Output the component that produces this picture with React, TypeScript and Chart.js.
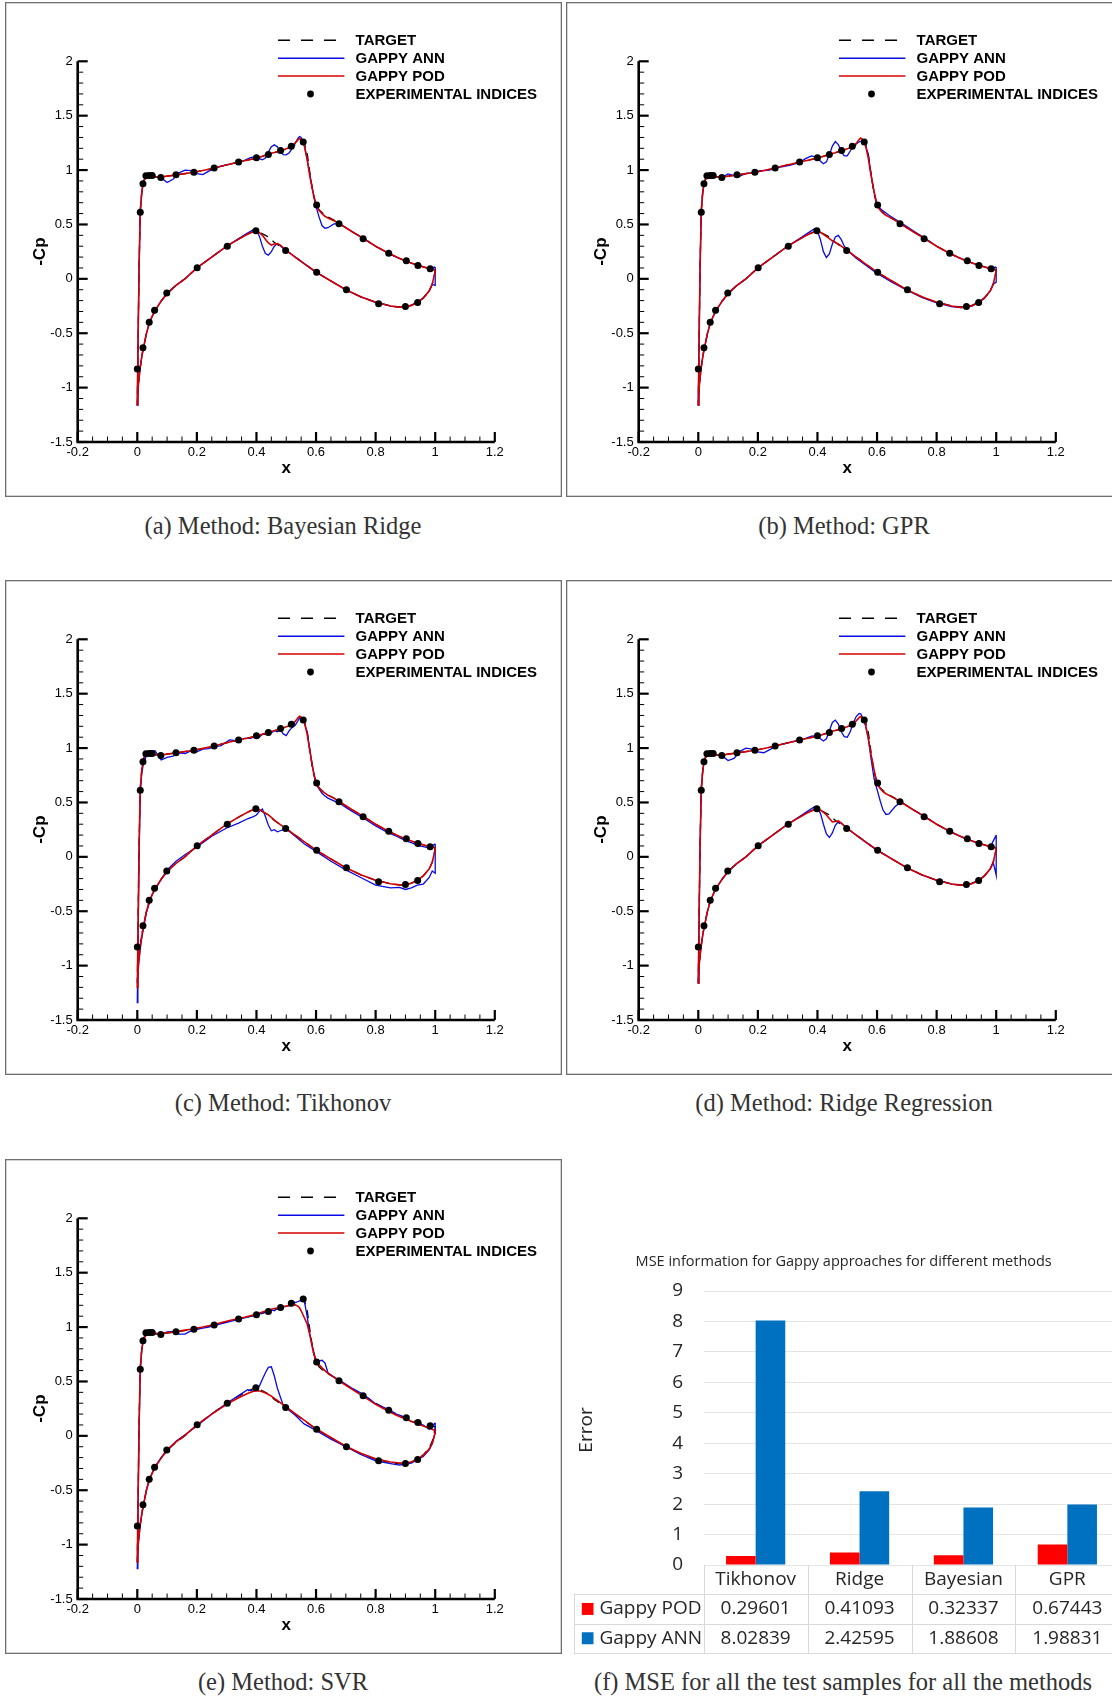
import React, { useEffect, useRef } from "react";
import { Chart, registerables } from "chart.js";
Chart.register(...registerables);

// ---------------- Cp distribution data (x/c along the airfoil loop) ----------------
// upper surface, trailing edge -> leading edge
const xUpper = [
  1.0, 0.98, 0.96, 0.94, 0.92, 0.9, 0.87, 0.84,
  0.8, 0.76, 0.72, 0.7, 0.68, 0.66, 0.64, 0.63,
  0.62, 0.61, 0.6, 0.59, 0.58, 0.57, 0.56, 0.55,
  0.545, 0.54, 0.53, 0.52, 0.51, 0.5, 0.49, 0.48,
  0.47, 0.46, 0.45, 0.44, 0.43, 0.42, 0.41, 0.4,
  0.38, 0.36, 0.34, 0.31, 0.28, 0.26, 0.24, 0.22,
  0.2, 0.18, 0.16, 0.14, 0.12, 0.1, 0.08, 0.06,
  0.04, 0.03, 0.02, 0.015, 0.01, 0.006, 0.003, 0,
];
// lower surface, leading edge -> trailing edge
const xLower = [
  0.002, 0.004, 0.008, 0.012, 0.018, 0.022, 0.03, 0.04,
  0.05, 0.06, 0.08, 0.1, 0.13, 0.16, 0.2, 0.25,
  0.3, 0.34, 0.37, 0.39, 0.4, 0.41, 0.42, 0.43,
  0.44, 0.45, 0.46, 0.47, 0.48, 0.49, 0.5, 0.53,
  0.56, 0.6, 0.65, 0.7, 0.75, 0.8, 0.85, 0.88,
  0.9, 0.92, 0.94, 0.96, 0.98, 0.99, 1.0,
];

const targetUpper = [
  0.085, 0.095, 0.11, 0.125, 0.145, 0.165, 0.2, 0.24,
  0.3, 0.37, 0.435, 0.47, 0.505, 0.54, 0.57, 0.59,
  0.61, 0.635, 0.68, 0.78, 0.96, 1.16, 1.25, 1.25,
  1.245, 1.24, 1.23, 1.215, 1.205, 1.195, 1.185, 1.178,
  1.168, 1.16, 1.152, 1.143, 1.135, 1.125, 1.118, 1.11,
  1.098, 1.086, 1.074, 1.055, 1.035, 1.018, 1.007, 0.997,
  0.985, 0.976, 0.968, 0.96, 0.952, 0.944, 0.935, 0.938,
  0.95, 0.945, 0.89, 0.8, 0.63, 0.1, -0.5, -1.16,
];
const targetLower = [
  -1.05, -0.96, -0.86, -0.77, -0.67, -0.62, -0.51, -0.41,
  -0.345, -0.29, -0.205, -0.135, -0.06, 0.0, 0.1, 0.2,
  0.3, 0.365, 0.41, 0.435, 0.443, 0.43, 0.415, 0.4,
  0.385, 0.36, 0.335, 0.315, 0.295, 0.277, 0.26, 0.2,
  0.14, 0.062, -0.02, -0.1, -0.165, -0.215, -0.248, -0.258,
  -0.256, -0.242, -0.215, -0.175, -0.11, -0.05, 0.07,
];

const expX = [
  0, 0.01, 0.019, 0.029, 0.04, 0.05, 0.079, 0.13, 0.19, 0.258, 0.34, 0.4,
  0.44, 0.481, 0.517, 0.557, 0.602, 0.677, 0.758, 0.844, 0.903, 0.942, 0.983,
  0.019, 0.04, 0.058, 0.099, 0.201, 0.302, 0.398, 0.498, 0.602, 0.702, 0.81, 0.9, 0.941,
];
const expY = [
  -0.83, 0.612, 0.875, 0.947, 0.951, 0.951, 0.932, 0.956, 0.98, 1.018, 1.074, 1.113,
  1.144, 1.181, 1.218, 1.257, 0.679, 0.507, 0.368, 0.236, 0.166, 0.123, 0.092,
  -0.634, -0.4, -0.289, -0.13, 0.103, 0.299, 0.443, 0.26, 0.061, -0.101, -0.23, -0.255, -0.218,
];

// (a) Bayesian Ridge
const podUpperBayes = [
  0.08, 0.095, 0.11, 0.125, 0.145, 0.165, 0.2, 0.24,
  0.3, 0.37, 0.435, 0.47, 0.505, 0.535, 0.56, 0.575,
  0.6, 0.63, 0.68, 0.79, 0.93, 1.1, 1.23, 1.28,
  1.29, 1.28, 1.25, 1.225, 1.21, 1.195, 1.185, 1.177,
  1.17, 1.162, 1.155, 1.147, 1.138, 1.128, 1.118, 1.11,
  1.097, 1.085, 1.073, 1.054, 1.036, 1.02, 1.008, 0.996,
  0.984, 0.975, 0.967, 0.959, 0.951, 0.944, 0.937, 0.94,
  0.95, 0.944, 0.89, 0.79, 0.62, 0.1, -0.5, -1.16,
];
const podLowerBayes = [
  -1.05, -0.96, -0.86, -0.77, -0.67, -0.62, -0.51, -0.41,
  -0.345, -0.29, -0.205, -0.135, -0.06, 0.0, 0.1, 0.2,
  0.3, 0.365, 0.41, 0.435, 0.44, 0.425, 0.4, 0.365,
  0.33, 0.31, 0.32, 0.325, 0.31, 0.285, 0.262, 0.2,
  0.14, 0.062, -0.02, -0.1, -0.165, -0.215, -0.25, -0.26,
  -0.258, -0.244, -0.217, -0.177, -0.11, -0.05, 0.07,
];
const annUpperBayes = [
  0.11, 0.092, 0.11, 0.125, 0.145, 0.165, 0.2, 0.24,
  0.3, 0.37, 0.435, 0.47, 0.505, 0.505, 0.47, 0.465,
  0.49, 0.57, 0.665, 0.8, 0.95, 1.1, 1.24, 1.3,
  1.308, 1.295, 1.245, 1.2, 1.16, 1.14, 1.142, 1.17,
  1.215, 1.232, 1.215, 1.165, 1.11, 1.094, 1.105, 1.125,
  1.115, 1.09, 1.074, 1.054, 1.034, 1.017, 0.99, 0.958,
  0.968, 0.995, 1.0, 0.975, 0.915, 0.885, 0.93, 0.94,
  0.95, 0.944, 0.89, 0.79, 0.62, 0.1, -0.5, -1.16,
];
const annLowerBayes = [
  -1.05, -0.96, -0.86, -0.77, -0.67, -0.62, -0.51, -0.41,
  -0.345, -0.29, -0.205, -0.135, -0.06, 0.0, 0.1, 0.2,
  0.3, 0.37, 0.42, 0.452, 0.448, 0.39, 0.3, 0.232,
  0.218, 0.25, 0.3, 0.325, 0.305, 0.28, 0.26, 0.2,
  0.14, 0.062, -0.02, -0.1, -0.165, -0.215, -0.25, -0.262,
  -0.26, -0.244, -0.217, -0.177, -0.11, -0.05, -0.06,
];

// (b) GPR
const podUpperGPR = [
  0.08, 0.095, 0.11, 0.125, 0.145, 0.165, 0.2, 0.24,
  0.3, 0.37, 0.435, 0.47, 0.505, 0.54, 0.57, 0.585,
  0.605, 0.635, 0.68, 0.8, 0.95, 1.12, 1.24, 1.285,
  1.294, 1.28, 1.245, 1.222, 1.208, 1.195, 1.185, 1.177,
  1.17, 1.16, 1.152, 1.144, 1.136, 1.127, 1.118, 1.11,
  1.097, 1.085, 1.073, 1.054, 1.035, 1.019, 1.007, 0.996,
  0.984, 0.975, 0.966, 0.958, 0.95, 0.943, 0.937, 0.94,
  0.95, 0.944, 0.89, 0.8, 0.62, 0.1, -0.5, -1.16,
];
const podLowerGPR = [
  -1.05, -0.96, -0.86, -0.77, -0.67, -0.62, -0.51, -0.41,
  -0.345, -0.29, -0.205, -0.135, -0.06, 0.0, 0.1, 0.2,
  0.3, 0.365, 0.41, 0.43, 0.437, 0.428, 0.41, 0.39,
  0.37, 0.35, 0.335, 0.32, 0.3, 0.28, 0.262, 0.2,
  0.14, 0.062, -0.02, -0.1, -0.165, -0.215, -0.25, -0.262,
  -0.26, -0.245, -0.218, -0.178, -0.11, -0.05, 0.07,
];
const annUpperGPR = [
  0.11, 0.095, 0.11, 0.125, 0.145, 0.165, 0.2, 0.24,
  0.3, 0.375, 0.445, 0.48, 0.515, 0.55, 0.585, 0.605,
  0.625, 0.65, 0.68, 0.8, 0.96, 1.15, 1.24, 1.27,
  1.265, 1.26, 1.24, 1.22, 1.175, 1.13, 1.13, 1.17,
  1.235, 1.262, 1.22, 1.14, 1.075, 1.058, 1.08, 1.115,
  1.13, 1.105, 1.07, 1.045, 1.03, 1.02, 1.0, 0.995,
  0.99, 0.975, 0.97, 0.945, 0.95, 0.965, 0.935, 0.94,
  0.95, 0.944, 0.89, 0.8, 0.62, 0.1, -0.5, -1.16,
];
const annLowerGPR = [
  -1.05, -0.96, -0.86, -0.77, -0.67, -0.62, -0.51, -0.41,
  -0.345, -0.29, -0.205, -0.135, -0.06, 0.0, 0.1, 0.2,
  0.3, 0.37, 0.425, 0.46, 0.44, 0.36, 0.25, 0.196,
  0.23, 0.32, 0.385, 0.4, 0.36, 0.3, 0.265, 0.19,
  0.13, 0.05, -0.03, -0.105, -0.17, -0.22, -0.255, -0.265,
  -0.262, -0.248, -0.22, -0.18, -0.11, -0.05, -0.03,
];

// (c) Tikhonov
const podUpperTikh = [
  0.085, 0.095, 0.11, 0.125, 0.145, 0.165, 0.2, 0.24,
  0.3, 0.37, 0.435, 0.47, 0.505, 0.54, 0.565, 0.585,
  0.605, 0.635, 0.68, 0.8, 0.96, 1.13, 1.245, 1.285,
  1.292, 1.28, 1.245, 1.222, 1.207, 1.195, 1.185, 1.177,
  1.168, 1.16, 1.152, 1.143, 1.135, 1.126, 1.118, 1.11,
  1.098, 1.086, 1.074, 1.055, 1.035, 1.018, 1.007, 0.997,
  0.985, 0.976, 0.968, 0.96, 0.952, 0.944, 0.937, 0.942,
  0.955, 0.95, 0.9, 0.8, 0.63, 0.1, -0.55, -1.2,
];
const podLowerTikh = [
  -1.1, -0.98, -0.87, -0.78, -0.68, -0.62, -0.51, -0.41,
  -0.345, -0.29, -0.205, -0.135, -0.06, 0.0, 0.1, 0.2,
  0.3, 0.365, 0.41, 0.435, 0.443, 0.432, 0.418, 0.402,
  0.386, 0.362, 0.338, 0.316, 0.296, 0.278, 0.26, 0.2,
  0.14, 0.062, -0.02, -0.1, -0.165, -0.215, -0.248, -0.258,
  -0.256, -0.242, -0.215, -0.175, -0.11, -0.05, 0.07,
];
const annUpperTikh = [
  0.12, 0.08, 0.095, 0.105, 0.13, 0.15, 0.19, 0.225,
  0.285, 0.355, 0.42, 0.455, 0.49, 0.515, 0.54, 0.56,
  0.585, 0.625, 0.67, 0.8, 0.97, 1.15, 1.24, 1.27,
  1.28, 1.255, 1.21, 1.19, 1.16, 1.115, 1.13, 1.17,
  1.15, 1.16, 1.14, 1.145, 1.125, 1.13, 1.1, 1.115,
  1.09, 1.09, 1.065, 1.075, 1.02, 1.015, 0.995, 0.99,
  0.965, 0.975, 0.95, 0.955, 0.925, 0.915, 0.89, 0.975,
  0.975, 0.93, 0.85, 0.76, 0.6, 0.0, -0.7, -1.34,
];
const annLowerTikh = [
  -1.2, -1.0, -0.9, -0.8, -0.7, -0.64, -0.52, -0.43,
  -0.35, -0.3, -0.21, -0.12, -0.04, 0.02, 0.09, 0.19,
  0.265, 0.31, 0.35, 0.37, 0.385, 0.42, 0.44, 0.37,
  0.29, 0.24, 0.25, 0.23, 0.24, 0.25, 0.255, 0.19,
  0.12, 0.05, -0.04, -0.12, -0.19, -0.26, -0.285, -0.28,
  -0.3, -0.285, -0.26, -0.25, -0.19, -0.13, -0.15,
];

// (d) Ridge Regression
const podUpperRidge = [
  0.08, 0.095, 0.11, 0.125, 0.145, 0.165, 0.2, 0.24,
  0.3, 0.37, 0.435, 0.47, 0.505, 0.535, 0.565, 0.58,
  0.6, 0.63, 0.68, 0.8, 0.94, 1.1, 1.23, 1.28,
  1.29, 1.28, 1.25, 1.225, 1.21, 1.196, 1.186, 1.177,
  1.17, 1.162, 1.154, 1.146, 1.137, 1.128, 1.118, 1.11,
  1.097, 1.085, 1.073, 1.054, 1.036, 1.02, 1.008, 0.996,
  0.984, 0.975, 0.967, 0.959, 0.951, 0.944, 0.937, 0.94,
  0.95, 0.944, 0.89, 0.79, 0.62, 0.1, -0.5, -1.16,
];
const podLowerRidge = [
  -1.05, -0.96, -0.86, -0.77, -0.67, -0.62, -0.51, -0.41,
  -0.345, -0.29, -0.205, -0.135, -0.06, 0.0, 0.1, 0.2,
  0.3, 0.365, 0.41, 0.435, 0.44, 0.43, 0.41, 0.385,
  0.352, 0.322, 0.325, 0.33, 0.31, 0.285, 0.262, 0.2,
  0.14, 0.062, -0.02, -0.1, -0.165, -0.215, -0.25, -0.26,
  -0.258, -0.244, -0.217, -0.177, -0.11, -0.05, 0.07,
];
const annUpperRidge = [
  0.2, 0.092, 0.11, 0.125, 0.145, 0.165, 0.2, 0.24,
  0.3, 0.37, 0.435, 0.47, 0.505, 0.46, 0.395, 0.39,
  0.43, 0.52, 0.62, 0.72, 0.9, 1.1, 1.22, 1.29,
  1.315, 1.318, 1.29, 1.23, 1.15, 1.1, 1.105, 1.15,
  1.22, 1.257, 1.235, 1.16, 1.085, 1.065, 1.085, 1.115,
  1.11, 1.09, 1.074, 1.054, 1.034, 1.02, 0.985, 0.957,
  0.965, 0.99, 1.0, 0.97, 0.905, 0.885, 0.93, 0.94,
  0.95, 0.944, 0.89, 0.79, 0.62, 0.1, -0.5, -1.16,
];
const annLowerRidge = [
  -1.05, -0.96, -0.86, -0.77, -0.67, -0.62, -0.51, -0.41,
  -0.345, -0.29, -0.205, -0.135, -0.06, 0.0, 0.1, 0.2,
  0.3, 0.37, 0.425, 0.46, 0.45, 0.4, 0.3, 0.21,
  0.178, 0.22, 0.29, 0.322, 0.31, 0.285, 0.26, 0.2,
  0.14, 0.062, -0.02, -0.1, -0.165, -0.215, -0.25, -0.262,
  -0.26, -0.244, -0.217, -0.177, -0.11, -0.05, -0.17,
];

// (e) SVR
const podUpperSVR = [
  0.05, 0.07, 0.09, 0.11, 0.135, 0.155, 0.19, 0.23,
  0.29, 0.36, 0.43, 0.465, 0.5, 0.54, 0.575, 0.6,
  0.625, 0.655, 0.69, 0.78, 0.92, 1.03, 1.09, 1.15,
  1.175, 1.19, 1.205, 1.2, 1.197, 1.193, 1.188, 1.182,
  1.176, 1.17, 1.163, 1.155, 1.147, 1.138, 1.13, 1.12,
  1.105, 1.09, 1.078, 1.06, 1.04, 1.025, 1.012, 1.0,
  0.99, 0.98, 0.972, 0.963, 0.955, 0.948, 0.94, 0.94,
  0.945, 0.935, 0.88, 0.79, 0.62, 0.1, -0.5, -1.16,
];
const podLowerSVR = [
  -1.05, -0.96, -0.86, -0.77, -0.67, -0.62, -0.51, -0.41,
  -0.345, -0.29, -0.205, -0.13, -0.055, 0.005, 0.1, 0.2,
  0.29, 0.35, 0.39, 0.41, 0.415, 0.412, 0.405, 0.395,
  0.38, 0.365, 0.345, 0.325, 0.305, 0.285, 0.265, 0.205,
  0.145, 0.065, -0.015, -0.095, -0.16, -0.21, -0.24, -0.25,
  -0.25, -0.24, -0.215, -0.18, -0.12, -0.07, 0.03,
];
const annUpperSVR = [
  0.12, 0.06, 0.1, 0.12, 0.13, 0.17, 0.2, 0.245,
  0.295, 0.38, 0.44, 0.475, 0.51, 0.54, 0.58, 0.67,
  0.695, 0.69, 0.68, 0.8, 0.92, 1.1, 1.25, 1.245,
  1.24, 1.235, 1.225, 1.215, 1.2, 1.19, 1.185, 1.18,
  1.17, 1.15, 1.158, 1.15, 1.14, 1.13, 1.12, 1.11,
  1.1, 1.085, 1.07, 1.05, 1.03, 1.015, 1.0, 0.99,
  0.98, 0.965, 0.935, 0.935, 0.96, 0.955, 0.93, 0.945,
  0.95, 0.945, 0.88, 0.79, 0.6, 0.05, -0.6, -1.22,
];
const annLowerSVR = [
  -1.1, -0.98, -0.87, -0.78, -0.68, -0.62, -0.5, -0.4,
  -0.34, -0.28, -0.2, -0.13, -0.05, 0.01, 0.09, 0.2,
  0.3, 0.37, 0.425, 0.41, 0.42, 0.46, 0.52, 0.58,
  0.63, 0.635, 0.55, 0.44, 0.36, 0.28, 0.255, 0.19,
  0.11, 0.05, -0.03, -0.1, -0.17, -0.23, -0.255, -0.27,
  -0.26, -0.25, -0.22, -0.19, -0.13, -0.07, 0.03,
];

// axes / legend text
const xTickValues = [-0.2, 0, 0.2, 0.4, 0.6, 0.8, 1, 1.2];
const xTickLabels = ["-0.2", "0", "0.2", "0.4", "0.6", "0.8", "1", "1.2"];
const yTickValues = [2, 1.5, 1, 0.5, 0, -0.5, -1, -1.5];
const yTickLabels = ["2", "1.5", "1", "0.5", "0", "-0.5", "-1", "-1.5"];
const legendLabels = ["TARGET", "GAPPY ANN", "GAPPY POD", "EXPERIMENTAL INDICES"];

// ---------------- MSE bar chart data ----------------
const methods = ["Tikhonov", "Ridge", "Bayesian", "GPR"];
const mseGappyPOD = [0.29601, 0.41093, 0.32337, 0.67443];
const mseGappyANN = [8.02839, 2.42595, 1.88608, 1.98831];
const mseTitle = "MSE information for Gappy approaches for different methods";

const captions = [
  "(a) Method: Bayesian Ridge",
  "(b) Method: GPR",
  "(c) Method: Tikhonov",
  "(d) Method: Ridge Regression",
  "(e) Method: SVR",
  "(f) MSE for all the test samples for all the methods",
];

// ---------------- styling ----------------
const RED = "#d40000";
const BLUE = "#0a0ae6";
const BAR_RED = "#ff0000";
const BAR_BLUE = "#0070c0";

const PW = 557;
const PH = 495;
const PA = { left: 72.7, top: 59.3, right: 489.8, bottom: 440 };

function loop(yU: number[], yL: number[]) {
  const pts = xUpper.map((x, i) => ({ x, y: yU[i] }));
  xLower.forEach((x, i) => pts.push({ x, y: yL[i] }));
  pts.push({ x: xUpper[0], y: yU[0] });
  return pts;
}

function seg(ctx: CanvasRenderingContext2D, x1: number, y1: number, x2: number, y2: number) {
  ctx.beginPath();
  ctx.moveTo(x1, y1);
  ctx.lineTo(x2, y2);
  ctx.stroke();
}

const tecplotPlugin = {
  id: "tecplot",
  afterDraw(chart: any) {
    const ctx: CanvasRenderingContext2D = chart.ctx;
    const xs = chart.scales.x;
    const ys = chart.scales.y;
    const xL = xs.getPixelForValue(-0.2);
    const xR = xs.getPixelForValue(1.2);
    const yB = ys.getPixelForValue(-1.5);
    const yT = ys.getPixelForValue(2);
    ctx.save();
    // frame
    ctx.strokeStyle = "#6f6f6f";
    ctx.lineWidth = 1.3;
    ctx.strokeRect(0.65, 0.65, chart.width - 1.3, chart.height - 1.3);
    // minor ticks
    ctx.strokeStyle = "#000";
    ctx.lineWidth = 1;
    for (let k = 1; k < 35; k++) {
      if (k % 5 === 0) continue;
      const p = ys.getPixelForValue(-1.5 + k * 0.1);
      seg(ctx, xL, p, xL + 5.5, p);
    }
    for (let k = 1; k < 28; k++) {
      if (k % 4 === 0) continue;
      const p = xs.getPixelForValue(-0.2 + k * 0.05);
      seg(ctx, p, yB, p, yB - 5.5);
    }
    // major ticks
    ctx.lineWidth = 2.2;
    yTickValues.forEach((v) => {
      const p = ys.getPixelForValue(v);
      seg(ctx, xL, p, xL + 10, p);
    });
    xTickValues.forEach((v) => {
      const p = xs.getPixelForValue(v);
      seg(ctx, p, yB, p, yB - 10);
    });
    // axis lines
    ctx.lineWidth = 2.6;
    ctx.beginPath();
    ctx.moveTo(xL, yT);
    ctx.lineTo(xL, yB);
    ctx.lineTo(xR, yB);
    ctx.stroke();
    // tick labels
    ctx.fillStyle = "#000";
    ctx.font = '13px "Liberation Sans"';
    ctx.textBaseline = "middle";
    ctx.textAlign = "right";
    yTickValues.forEach((v, i) => ctx.fillText(yTickLabels[i], xL - 5, ys.getPixelForValue(v)));
    ctx.textAlign = "center";
    xTickValues.forEach((v, i) => ctx.fillText(xTickLabels[i], xs.getPixelForValue(v), yB + 10.5));
    // axis titles
    ctx.font = 'bold 17px "Liberation Sans"';
    ctx.fillText("x", (xL + xR) / 2, yB + 26.5);
    ctx.save();
    ctx.translate(35, (yT + yB) / 2);
    ctx.rotate(-Math.PI / 2);
    ctx.fillText("-Cp", 0, 0);
    ctx.restore();
    // legend
    const rows = [38.3, 56.2, 74.1, 92];
    ctx.lineWidth = 1.5;
    ctx.strokeStyle = "#000";
    ctx.setLineDash([12, 11]);
    seg(ctx, 273, rows[0], 333, rows[0]);
    ctx.setLineDash([]);
    ctx.strokeStyle = BLUE;
    seg(ctx, 273, rows[1], 339.4, rows[1]);
    ctx.strokeStyle = RED;
    seg(ctx, 273, rows[2], 339.4, rows[2]);
    ctx.fillStyle = "#000";
    ctx.beginPath();
    ctx.arc(305.5, rows[3], 3.4, 0, Math.PI * 2);
    ctx.fill();
    ctx.font = 'bold 15px "Liberation Sans"';
    ctx.textAlign = "left";
    legendLabels.forEach((t, i) => ctx.fillText(t, 350.6, rows[i] + 0.5));
    ctx.restore();
  },
};

type PanelProps = {
  left: number;
  top: number;
  podU: number[];
  podL: number[];
  annU: number[];
  annL: number[];
};

function CpPanel({ left, top, podU, podL, annU, annL }: PanelProps) {
  const ref = useRef<HTMLCanvasElement>(null);
  useEffect(() => {
    const exp = expX.map((x, i) => ({ x, y: expY[i] }));
    const chart = new Chart(ref.current as HTMLCanvasElement, {
      type: "scatter",
      data: {
        datasets: [
          {
            label: legendLabels[3],
            data: exp,
            showLine: false,
            pointRadius: 3.5,
            pointBackgroundColor: "#000",
            pointBorderColor: "#000",
            pointBorderWidth: 0,
            order: 0,
          } as any,
          {
            label: legendLabels[2],
            data: loop(podU, podL),
            showLine: true,
            borderColor: RED,
            borderWidth: 1.6,
            pointRadius: 0,
            order: 1,
          },
          {
            label: legendLabels[1],
            data: loop(annU, annL),
            showLine: true,
            borderColor: BLUE,
            borderWidth: 1.3,
            pointRadius: 0,
            order: 2,
          },
          {
            label: legendLabels[0],
            data: loop(targetUpper, targetLower),
            showLine: true,
            borderColor: "#000",
            borderWidth: 1.3,
            borderDash: [8, 6],
            pointRadius: 0,
            order: 3,
          },
        ],
      },
      options: {
        responsive: false,
        animation: false,
        events: [],
        layout: { padding: { left: PA.left, top: PA.top, right: PW - PA.right, bottom: PH - PA.bottom } },
        scales: {
          x: { type: "linear", min: -0.2, max: 1.2, display: false },
          y: { type: "linear", min: -1.5, max: 2, display: false },
        },
        plugins: { legend: { display: false }, tooltip: { enabled: false } },
      },
      plugins: [tecplotPlugin],
    });
    return () => chart.destroy();
  }, []);
  return (
    <canvas
      ref={ref}
      width={PW}
      height={PH}
      style={{ position: "absolute", left, top, width: PW, height: PH }}
    />
  );
}

// ---------------- bar chart ----------------
const BW = 570;
const BH = 420;
const BA = { left: 143.7, top: 51, right: 559.3, bottom: 325 };

const tablePlugin = {
  id: "mseTable",
  afterDraw(chart: any) {
    const ctx: CanvasRenderingContext2D = chart.ctx;
    const ca = chart.chartArea;
    const xs = chart.scales.x;
    const n = methods.length;
    const colW = (ca.right - ca.left) / n;
    const rowH = 29.3;
    const t0 = ca.bottom;
    const tl = 14;
    ctx.save();
    ctx.strokeStyle = "#d9d9d9";
    ctx.lineWidth = 1;
    for (let i = 0; i <= n; i++) {
      const x = Math.round(ca.left + i * colW) + 0.5;
      seg(ctx, x, t0, x, t0 + 3 * rowH);
    }
    seg(ctx, tl + 0.5, t0 + rowH, tl + 0.5, t0 + 3 * rowH);
    for (let r = 1; r <= 3; r++) {
      const y = Math.round(t0 + r * rowH) + 0.5;
      seg(ctx, tl, y, ca.right + 20, y);
    }
    ctx.fillStyle = "#262626";
    ctx.font = '19px "Open Sans"';
    ctx.textAlign = "center";
    ctx.textBaseline = "middle";
    methods.forEach((m, i) => ctx.fillText(m, xs.getPixelForValue(i), t0 + rowH / 2));
    mseGappyPOD.forEach((v, i) => ctx.fillText(v.toFixed(5), xs.getPixelForValue(i), t0 + 1.5 * rowH));
    mseGappyANN.forEach((v, i) => ctx.fillText(v.toFixed(5), xs.getPixelForValue(i), t0 + 2.5 * rowH));
    ctx.fillStyle = BAR_RED;
    ctx.fillRect(21.8, t0 + 1.5 * rowH - 6, 11.7, 12);
    ctx.fillStyle = BAR_BLUE;
    ctx.fillRect(21.8, t0 + 2.5 * rowH - 6, 11.7, 12);
    ctx.fillStyle = "#262626";
    ctx.textAlign = "left";
    ctx.fillText("Gappy POD", 39.4, t0 + 1.5 * rowH);
    ctx.fillText("Gappy ANN", 39.4, t0 + 2.5 * rowH);
    ctx.textAlign = "center";
    ctx.font = '14.5px "Open Sans"';
    ctx.fillText(mseTitle, 283.7, 21.5);
    ctx.save();
    ctx.translate(26.4, 190);
    ctx.rotate(-Math.PI / 2);
    ctx.font = '19px "Open Sans"';
    ctx.fillText("Error", 0, 0);
    ctx.restore();
    ctx.restore();
  },
};

function MseChart() {
  const ref = useRef<HTMLCanvasElement>(null);
  useEffect(() => {
    const chart = new Chart(ref.current as HTMLCanvasElement, {
      type: "bar",
      data: {
        labels: methods,
        datasets: [
          { label: "Gappy POD", data: mseGappyPOD, backgroundColor: BAR_RED, categoryPercentage: 0.57, barPercentage: 1 },
          { label: "Gappy ANN", data: mseGappyANN, backgroundColor: BAR_BLUE, categoryPercentage: 0.57, barPercentage: 1 },
        ],
      },
      options: {
        responsive: false,
        animation: false,
        events: [],
        layout: { padding: { left: BA.left - 60, top: BA.top, right: BW - BA.right, bottom: BH - BA.bottom } },
        scales: {
          x: { display: false },
          y: {
            min: 0,
            max: 9,
            ticks: { stepSize: 1, color: "#262626", padding: 20.7, font: { family: "Open Sans", size: 19 } },
            grid: { color: "#e4e4e4", drawTicks: false, lineWidth: 1 },
            border: { display: false },
            afterFit: (s: any) => {
              s.width = 60;
            },
          },
        },
        plugins: { legend: { display: false }, tooltip: { enabled: false } },
      },
      plugins: [tablePlugin],
    });
    return () => chart.destroy();
  }, []);
  return (
    <canvas
      ref={ref}
      width={BW}
      height={BH}
      style={{ position: "absolute", left: 560, top: 1240, width: BW, height: BH }}
    />
  );
}

function Caption({ text, cx, cy }: { text: string; cx: number; cy: number }) {
  return (
    <div
      style={{
        position: "absolute",
        left: cx - 320,
        width: 640,
        top: cy - 16,
        height: 32,
        lineHeight: "32px",
        textAlign: "center",
        fontFamily: '"Liberation Serif", serif',
        fontSize: 24.5,
        color: "#333",
        whiteSpace: "nowrap",
      }}
    >
      {text}
    </div>
  );
}

export default function App() {
  return (
    <div
      style={{
        position: "absolute",
        left: 0,
        top: 0,
        width: 1112,
        height: 1696,
        overflow: "hidden",
        background: "#fff",
      }}
    >
      <CpPanel left={5} top={2} podU={podUpperBayes} podL={podLowerBayes} annU={annUpperBayes} annL={annLowerBayes} />
      <CpPanel left={566} top={2} podU={podUpperGPR} podL={podLowerGPR} annU={annUpperGPR} annL={annLowerGPR} />
      <CpPanel left={5} top={580} podU={podUpperTikh} podL={podLowerTikh} annU={annUpperTikh} annL={annLowerTikh} />
      <CpPanel left={566} top={580} podU={podUpperRidge} podL={podLowerRidge} annU={annUpperRidge} annL={annLowerRidge} />
      <CpPanel left={5} top={1159} podU={podUpperSVR} podL={podLowerSVR} annU={annUpperSVR} annL={annLowerSVR} />
      <MseChart />
      <Caption text={captions[0]} cx={283} cy={526} />
      <Caption text={captions[1]} cx={844} cy={526} />
      <Caption text={captions[2]} cx={283} cy={1103} />
      <Caption text={captions[3]} cx={844} cy={1103} />
      <Caption text={captions[4]} cx={283} cy={1682} />
      <Caption text={captions[5]} cx={843} cy={1682} />
    </div>
  );
}
